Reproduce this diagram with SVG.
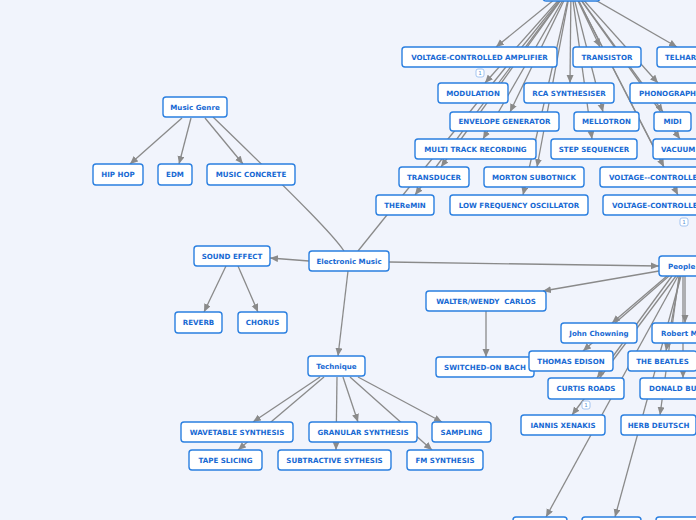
<svg xmlns="http://www.w3.org/2000/svg" width="696" height="520" viewBox="0 0 696 520">
<defs>
<marker id="arr" markerUnits="userSpaceOnUse" markerWidth="9" markerHeight="8" refX="8" refY="3.5" orient="auto">
<path d="M0,0 L8,3.5 L0,7 z" fill="#8a8a8a"/>
</marker>
<style>
.n rect{fill:#ffffff;stroke:#2a7fe0;stroke-width:1.4}
.n text{font-family:"DejaVu Sans",Verdana,sans-serif;font-weight:bold;font-size:7.1px;fill:#1769d3;text-anchor:middle;white-space:pre}
.n text.s{text-anchor:start}
#edges line,#edges path{stroke:#8a8a8a;stroke-width:1.3;fill:none}
.a{marker-end:url(#arr)}
.b rect{fill:#ffffff;stroke:#8fb8ee;stroke-width:0.8}
.b text{font-family:"DejaVu Sans",sans-serif;font-size:5.5px;fill:#5a8fd6;text-anchor:middle}
</style>
</defs>
<rect width="696" height="520" fill="#f1f4fc"/>
<g id="edges">
<line class="a" x1="571" y1="-14" x2="496" y2="47"/>
<line class="a" x1="571" y1="-14" x2="600" y2="47"/>
<line class="a" x1="571" y1="-14" x2="677" y2="47"/>
<line class="a" x1="571" y1="-14" x2="485" y2="83"/>
<line class="a" x1="571" y1="-14" x2="570" y2="83"/>
<line class="a" x1="571" y1="-14" x2="658" y2="83"/>
<line class="a" x1="571" y1="-14" x2="510" y2="112"/>
<line class="a" x1="571" y1="-14" x2="603" y2="112"/>
<line class="a" x1="571" y1="-14" x2="663" y2="112"/>
<line class="a" x1="571" y1="-14" x2="483" y2="139"/>
<line class="a" x1="571" y1="-14" x2="592" y2="139"/>
<line class="a" x1="571" y1="-14" x2="680" y2="139"/>
<line class="a" x1="571" y1="-14" x2="441" y2="167"/>
<line class="a" x1="571" y1="-14" x2="537" y2="167"/>
<line class="a" x1="571" y1="-14" x2="664" y2="167"/>
<line class="a" x1="571" y1="-14" x2="415" y2="195"/>
<line class="a" x1="571" y1="-14" x2="523" y2="195"/>
<line class="a" x1="571" y1="-14" x2="678" y2="195"/>
<line x1="358" y1="251" x2="571" y2="-14"/>
<path d="M344,251 C334,236 305,206 213,117"/>
<line class="a" x1="182" y1="118" x2="130" y2="164"/>
<line class="a" x1="191" y1="118" x2="179" y2="164"/>
<line class="a" x1="205" y1="118" x2="243" y2="164"/>
<line class="a" x1="309" y1="261" x2="270" y2="258"/>
<line class="a" x1="226" y1="266" x2="204" y2="312"/>
<line class="a" x1="238" y1="266" x2="258" y2="312"/>
<line class="a" x1="389" y1="262" x2="659" y2="266"/>
<line class="a" x1="348" y1="271" x2="338" y2="356"/>
<line class="a" x1="659" y1="271" x2="543" y2="291"/>
<line class="a" x1="486" y1="311" x2="486" y2="357"/>
<line class="a" x1="667" y1="276" x2="612" y2="323"/>
<line class="a" x1="669" y1="276" x2="583" y2="351"/>
<line class="a" x1="672" y1="276" x2="597" y2="378"/>
<line class="a" x1="676" y1="276" x2="572" y2="415"/>
<line class="a" x1="678" y1="276" x2="546" y2="517"/>
<line class="a" x1="681" y1="276" x2="615" y2="517"/>
<line class="a" x1="685" y1="276" x2="685" y2="323"/>
<line class="a" x1="680" y1="276" x2="666" y2="351"/>
<line class="a" x1="683" y1="276" x2="683" y2="378"/>
<line class="a" x1="679" y1="276" x2="660" y2="415"/>
<line class="a" x1="320" y1="377" x2="253" y2="422"/>
<line class="a" x1="324" y1="377" x2="238" y2="450"/>
<line class="a" x1="337" y1="377" x2="336" y2="450"/>
<line class="a" x1="343" y1="377" x2="358" y2="422"/>
<line class="a" x1="350" y1="377" x2="432" y2="450"/>
<line class="a" x1="358" y1="377" x2="442" y2="422"/>
</g>
<g id="n-top" class="n"><rect x="543" y="-20" width="57" height="21" rx="3"/></g>
<g id="n-vca" class="n"><rect x="402" y="47" width="155" height="20" rx="3"/><text x="479.5" y="59.6">VOLTAGE-CONTROLLED AMPLIFIER</text></g>
<g id="n-transistor" class="n"><rect x="573" y="47" width="68" height="20" rx="3"/><text x="607" y="59.6">TRANSISTOR</text></g>
<g id="n-telharmonium" class="n"><rect x="657" y="47" width="82" height="20" rx="3"/><text class="s" x="665" y="59.6">TELHARMONIUM</text></g>
<g id="n-modulation" class="n"><rect x="438" y="83" width="70" height="20" rx="3"/><text x="473" y="95.6">MODULATION</text></g>
<g id="n-rca" class="n"><rect x="524" y="83" width="90" height="20" rx="3"/><text x="569" y="95.6">RCA SYNTHESISER</text></g>
<g id="n-phonograph" class="n"><rect x="630" y="83" width="75" height="20" rx="3"/><text class="s" x="639" y="95.6">PHONOGRAPH</text></g>
<g id="n-envelope" class="n"><rect x="450" y="112" width="109" height="19" rx="3"/><text x="504.5" y="124.1">ENVELOPE GENERATOR</text></g>
<g id="n-mellotron" class="n"><rect x="574" y="112" width="65" height="19" rx="3"/><text x="606.5" y="124.1">MELLOTRON</text></g>
<g id="n-midi" class="n"><rect x="654" y="112" width="37" height="19" rx="3"/><text x="672.5" y="124.1">MIDI</text></g>
<g id="n-multitrack" class="n"><rect x="415" y="139" width="121" height="20" rx="3"/><text x="475.5" y="151.6">MULTI TRACK RECORDING</text></g>
<g id="n-stepseq" class="n"><rect x="551" y="139" width="86" height="20" rx="3"/><text x="594" y="151.6">STEP SEQUENCER</text></g>
<g id="n-vacuum" class="n"><rect x="653" y="139" width="80" height="20" rx="3"/><text class="s" x="661" y="151.6">VACUUM TUBE</text></g>
<g id="n-transducer" class="n"><rect x="399" y="167" width="70" height="20" rx="3"/><text x="434" y="179.6">TRANSDUCER</text></g>
<g id="n-morton" class="n"><rect x="484" y="167" width="100" height="20" rx="3"/><text x="534" y="179.6">MORTON SUBOTNICK</text></g>
<g id="n-vco" class="n"><rect x="600" y="167" width="150" height="20" rx="3"/><text class="s" x="609" y="179.6">VOLTAGE--CONTROLLED OSCILLATOR</text></g>
<g id="n-theremin" class="n"><rect x="376" y="195" width="58" height="20" rx="3"/><text x="405" y="207.6">THEReMIN</text></g>
<g id="n-lfo" class="n"><rect x="450" y="195" width="138" height="20" rx="3"/><text x="519" y="207.6">LOW FREQUENCY OSCILLATOR</text></g>
<g id="n-vcf" class="n"><rect x="603" y="195" width="140" height="20" rx="3"/><text class="s" x="612" y="207.6">VOLTAGE-CONTROLLED FILTER</text></g>
<g id="n-genre" class="n"><rect x="163" y="97" width="64" height="20" rx="3"/><text x="195" y="109.6">Music Genre</text></g>
<g id="n-hiphop" class="n"><rect x="93" y="164" width="50" height="21" rx="3"/><text x="118" y="177.1">HIP HOP</text></g>
<g id="n-edm" class="n"><rect x="158" y="164" width="34" height="21" rx="3"/><text x="175" y="177.1">EDM</text></g>
<g id="n-concrete" class="n"><rect x="207" y="164" width="88" height="21" rx="3"/><text x="251" y="177.1">MUSIC CONCRETE</text></g>
<g id="n-soundfx" class="n"><rect x="194" y="246" width="76" height="20" rx="3"/><text x="232" y="258.6">SOUND EFFECT</text></g>
<g id="n-electronic" class="n"><rect x="309" y="251" width="80" height="20" rx="3"/><text x="349" y="263.6">Electronic Music</text></g>
<g id="n-reverb" class="n"><rect x="175" y="312" width="47" height="21" rx="3"/><text x="198.5" y="325.1">REVERB</text></g>
<g id="n-chorus" class="n"><rect x="238" y="312" width="49" height="21" rx="3"/><text x="262.5" y="325.1">CHORUS</text></g>
<g id="n-people" class="n"><rect x="659" y="256" width="50" height="20" rx="3"/><text class="s" x="668" y="268.6">People</text></g>
<g id="n-carlos" class="n"><rect x="426" y="291" width="120" height="20" rx="3"/><text x="486" y="303.6">WALTER/WENDY&#160; CARLOS</text></g>
<g id="n-chowning" class="n"><rect x="561" y="323" width="76" height="20" rx="3"/><text x="599" y="335.6">John Chowning</text></g>
<g id="n-moog" class="n"><rect x="652" y="323" width="62" height="20" rx="3"/><text class="s" x="661" y="335.6">Robert Moog</text></g>
<g id="n-sob" class="n"><rect x="436" y="357" width="98" height="20" rx="3"/><text x="485" y="369.6">SWITCHED-ON BACH</text></g>
<g id="n-edison" class="n"><rect x="529" y="351" width="84" height="20" rx="3"/><text x="571" y="363.6">THOMAS EDISON</text></g>
<g id="n-beatles" class="n"><rect x="628" y="351" width="69" height="20" rx="3"/><text x="662.5" y="363.6">THE BEATLES</text></g>
<g id="n-roads" class="n"><rect x="548" y="378" width="76" height="21" rx="3"/><text x="586" y="391.1">CURTIS ROADS</text></g>
<g id="n-buchla" class="n"><rect x="640" y="378" width="80" height="21" rx="3"/><text class="s" x="649" y="391.1">DONALD BUCHLA</text></g>
<g id="n-xenakis" class="n"><rect x="521" y="415" width="84" height="20" rx="3"/><text x="563" y="427.6">IANNIS XENAKIS</text></g>
<g id="n-deutsch" class="n"><rect x="621" y="415" width="75" height="20" rx="3"/><text x="658.5" y="427.6">HERB DEUTSCH</text></g>
<g id="n-bottom1" class="n"><rect x="513" y="517" width="54" height="20" rx="3"/></g>
<g id="n-bottom2" class="n"><rect x="582" y="517" width="59" height="20" rx="3"/></g>
<g id="n-bottom3" class="n"><rect x="656" y="517" width="60" height="20" rx="3"/></g>
<g id="n-technique" class="n"><rect x="308" y="356" width="57" height="20" rx="3"/><text x="336.5" y="368.6">Technique</text></g>
<g id="n-wavetable" class="n"><rect x="181" y="422" width="112" height="20" rx="3"/><text x="237" y="434.6">WAVETABLE SYNTHESIS</text></g>
<g id="n-granular" class="n"><rect x="309" y="422" width="108" height="20" rx="3"/><text x="363" y="434.6">GRANULAR SYNTHESIS</text></g>
<g id="n-sampling" class="n"><rect x="432" y="422" width="59" height="20" rx="3"/><text x="461.5" y="434.6">SAMPLING</text></g>
<g id="n-tape" class="n"><rect x="189" y="450" width="73" height="20" rx="3"/><text x="225.5" y="462.6">TAPE SLICING</text></g>
<g id="n-subtractive" class="n"><rect x="278" y="450" width="113" height="20" rx="3"/><text x="334.5" y="462.6">SUBTRACTIVE SYTHESIS</text></g>
<g id="n-fm" class="n"><rect x="407" y="450" width="76" height="20" rx="3"/><text x="445" y="462.6">FM SYNTHESIS</text></g>
<g class="b"><rect x="476" y="69" width="8" height="8" rx="2"/><text x="480" y="75">1</text></g>
<g class="b"><rect x="582" y="401" width="8" height="8" rx="2"/><text x="586" y="407">1</text></g>
<g class="b"><rect x="680" y="218" width="8" height="8" rx="2"/><text x="684" y="224">1</text></g>
</svg>
